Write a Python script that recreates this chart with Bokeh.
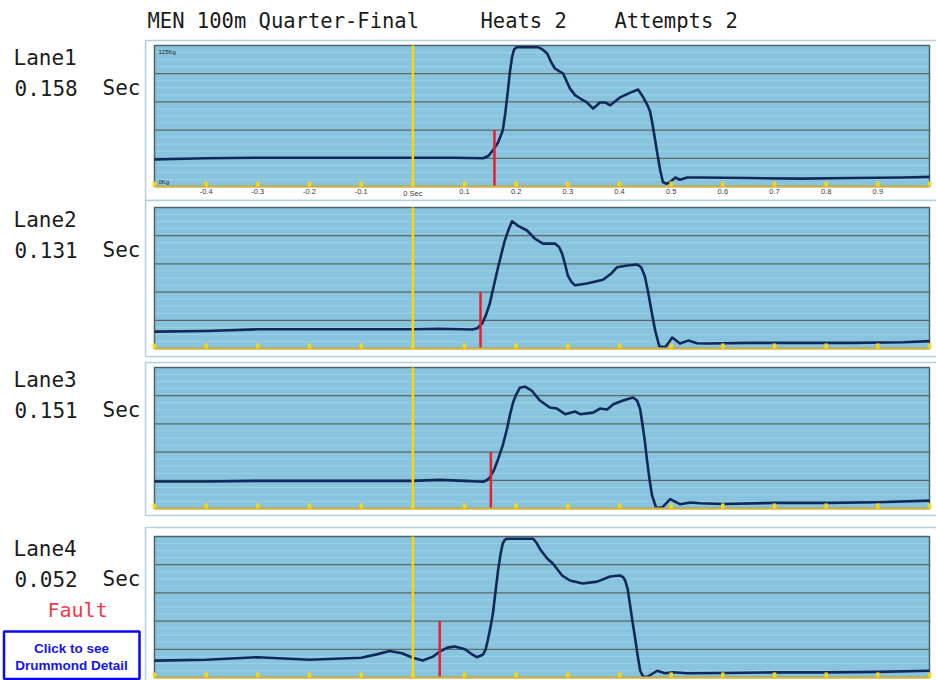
from bokeh.plotting import figure
from bokeh.models import Range1d
from bokeh.core.properties import value
from bokeh.embed import file_html
from bokeh.resources import INLINE

# ---------------- data ----------------
title_parts = ["MEN 100m Quarter-Final", "Heats 2", "Attempts 2"]
lanes = ["Lane1", "Lane2", "Lane3", "Lane4"]
reaction_times = [0.158, 0.131, 0.151, 0.052]
reaction_labels = ["0.158", "0.131", "0.151", "0.052"]
unit_label = "Sec"
fault_text = "Fault"
button_lines = ["Click to see", "Drummond Detail"]

tick_values = [-0.5, -0.4, -0.3, -0.2, -0.1, 0.0, 0.1, 0.2, 0.3, 0.4, 0.5, 0.6, 0.7, 0.8, 0.9, 1.0]
tick_labels = ["", "-0.4", "-0.3", "-0.2", "-0.1", "0 Sec", "0.1", "0.2", "0.3", "0.4",
               "0.5", "0.6", "0.7", "0.8", "0.9", ""]
grid_values = [25, 50, 75, 100]
kg_labels = ["125Kg", "0Kg"]

lane1_t = [-0.5, -0.4, -0.3, -0.2, -0.1, 0.0, 0.08, 0.136, 0.146, 0.155, 0.165, 0.174, 0.179,
           0.184, 0.188, 0.192, 0.196, 0.201, 0.242, 0.251, 0.260, 0.268, 0.275, 0.291, 0.304,
           0.314, 0.324, 0.337, 0.349, 0.362, 0.372, 0.382, 0.401, 0.420, 0.436, 0.446, 0.453,
           0.459, 0.464, 0.469, 0.474, 0.479, 0.484, 0.490, 0.497, 0.508, 0.517, 0.531, 0.556,
           0.65, 0.75, 0.85, 0.95, 1.0]
lane1_kg = [24, 25, 25.5, 25.5, 25.5, 25.5, 25.5, 25, 27, 32, 39, 49.6, 65,
            85, 102, 114.6, 121.5, 123.5, 123.5, 121.5, 118, 110, 104.6, 100, 87,
            81, 78, 74.5, 69, 74.5, 74.5, 72, 79, 83, 86, 79, 73,
            67, 55, 41, 27, 14, 4, 2.5, 3.5, 8, 6, 8, 8,
            7.5, 7, 7.5, 8, 8.5]

lane2_t = [-0.5, -0.4, -0.3, -0.2, -0.1, 0.0, 0.05, 0.115, 0.125, 0.134, 0.141, 0.149, 0.157,
           0.165, 0.172, 0.178, 0.185, 0.192, 0.203, 0.221, 0.236, 0.252, 0.275, 0.283, 0.289,
           0.295, 0.300, 0.307, 0.314, 0.337, 0.368, 0.383, 0.395, 0.415, 0.434, 0.442, 0.449,
           0.455, 0.462, 0.469, 0.477, 0.488, 0.495, 0.502, 0.517, 0.533, 0.550, 0.571,
           0.65, 0.75, 0.85, 0.95, 1.0]
lane2_kg = [15, 15.5, 17, 17, 17, 17, 17.5, 16.8, 18, 22, 29, 40, 56,
            72, 85, 95.7, 105, 112.8, 109, 104.6, 97.5, 93, 93, 90, 84,
            74, 64.7, 59, 56, 57.6, 61, 66, 72, 73.6, 74.5, 72, 64,
            51, 33, 16, 2, 1, 5, 9.7, 4.4, 7, 4.7, 4.4,
            5, 5, 5, 5.5, 6.5]

lane3_t = [-0.5, -0.4, -0.3, -0.2, -0.1, 0.0, 0.052, 0.1, 0.136, 0.143, 0.149, 0.157, 0.165,
           0.174, 0.182, 0.188, 0.194, 0.200, 0.207, 0.217, 0.230, 0.246, 0.265, 0.279, 0.295,
           0.314, 0.324, 0.349, 0.362, 0.376, 0.388, 0.407, 0.426, 0.434, 0.440, 0.444, 0.449,
           0.453, 0.458, 0.463, 0.471, 0.483, 0.498, 0.517, 0.537, 0.556, 0.601, 0.7, 0.8,
           0.9, 1.0]
lane3_kg = [24, 24, 24.5, 24.5, 24.5, 24.5, 25.4, 24.5, 23.7, 25, 27.5, 34, 43.7,
            56, 70, 83, 94, 101, 107, 108, 104.6, 95.7, 89.5, 88.6, 83.6,
            86, 83.6, 85, 88.6, 87.8, 92.5, 95.7, 98.4, 95.7, 88, 76, 60,
            43.7, 26, 11.5, 0.5, 1, 8.3, 3.8, 5.3, 4.7, 4, 5, 5,
            5.5, 7]

lane4_t = [-0.5, -0.4, -0.3, -0.2, -0.1, -0.07, -0.045, -0.021, 0.0, 0.019, 0.039, 0.053, 0.067,
           0.081, 0.101, 0.113, 0.124, 0.136, 0.141, 0.145, 0.150, 0.155, 0.160, 0.165, 0.170,
           0.174, 0.178, 0.182, 0.233, 0.240, 0.246, 0.260, 0.271, 0.289, 0.304, 0.329, 0.357,
           0.382, 0.401, 0.407, 0.411, 0.416, 0.420, 0.425, 0.430, 0.435, 0.440, 0.446, 0.455,
           0.473, 0.488, 0.504, 0.531, 0.6, 0.7, 0.8, 0.9, 1.0]
lane4_kg = [15, 15.7, 18, 15.7, 17.5, 20.5, 23.5, 21.5, 17.5, 15, 18.5, 23.3, 26.5,
            27.5, 25, 21, 18, 20.4, 25, 32.8, 44, 56.7, 76, 95, 110,
            118.8, 122, 123, 123, 119, 114, 105.5, 101, 90.4, 86, 83.3, 85,
            89.5, 90.4, 89, 86, 78, 65.6, 50, 35.7, 20, 6, 0.5, 0.9,
            6, 3.8, 4.7, 3.8, 4, 4.5, 4.5, 5, 6]

traces = [(lane1_t, lane1_kg), (lane2_t, lane2_kg), (lane3_t, lane3_kg), (lane4_t, lane4_kg)]

# ---------------- styles / geometry (canvas px) ----------------
W, H = 936, 680
BG = "#88c4de"
TRACE = "#11295a"
YELLOW = "#f7d512"
AXIS_YELLOW = "#d4b43c"
RED = "#ee1c2e"
GRID = "#5a6869"
FRAME = "#4a646c"
BOXLINE = "#b3d1dc"
MONO = value("DejaVu Sans Mono")

X_MIN, X_MAX = -0.5, 1.0
Y_MIN, Y_MAX = 0, 125
FRAME_LEFT, FRAME_RIGHT = 154, 929
frame_tops = [45, 207, 367, 536]
FRAME_H = 141
# faint outer boxes around each panel: (top, bottom)
boxes = [(40, 200), (200, 356), (362, 515), (527, 684)]

px_per_s = (FRAME_RIGHT - FRAME_LEFT) / (X_MAX - X_MIN)
px_per_kg = FRAME_H / (Y_MAX - Y_MIN)

p = figure(width=W, height=H, x_range=Range1d(0, W), y_range=Range1d(H, 0),
           output_backend="svg", toolbar_location=None,
           x_axis_location=None, y_axis_location=None,
           min_border=0, outline_line_color=None,
           background_fill_color="white", border_fill_color="white")
p.grid.visible = False

# time scale shared by all panels
p.extra_x_ranges = {"t": Range1d(X_MIN - FRAME_LEFT / px_per_s,
                                 X_MAX + (W - FRAME_RIGHT) / px_per_s)}
yr = {}
for i, ft in enumerate(frame_tops):
    fb = ft + FRAME_H
    yr["kg%d" % i] = Range1d(Y_MIN - (H - fb) / px_per_kg, Y_MIN + fb / px_per_kg)
p.extra_y_ranges = yr

# outer boxes (page decoration)
for (bt, bb) in boxes:
    p.quad(left=[145], right=[W + 5], top=[bt], bottom=[bb], fill_color="white",
           line_color=BOXLINE, line_width=1.5)

minor = [g + d for g in [0, 25, 50, 75, 100] for d in (6.25, 12.5, 18.75)]

for i in range(4):
    yn = "kg%d" % i
    kw = dict(x_range_name="t", y_range_name=yn)
    # plotting area
    p.quad(left=[X_MIN], right=[X_MAX], bottom=[Y_MIN], top=[Y_MAX], fill_color=BG,
           line_color=None, **kw)
    # faint scan lines and grid
    p.segment(x0=[X_MIN] * len(minor), x1=[X_MAX] * len(minor), y0=minor, y1=minor,
              line_color="#d2eef8", line_alpha=0.3, line_width=1, **kw)
    p.segment(x0=[X_MIN] * 4, x1=[X_MAX] * 4, y0=grid_values, y1=grid_values,
              line_color=GRID, line_width=1.3, **kw)
    # frame
    p.quad(left=[X_MIN], right=[X_MAX], bottom=[Y_MIN], top=[Y_MAX], fill_color=None,
           line_color=FRAME, line_width=1.5, **kw)
    # trace
    t, kg = traces[i]
    p.line(t, kg, line_color=TRACE, line_width=2.6, line_join="round", **kw)
    # reaction marker
    rt = reaction_times[i]
    p.segment(x0=[rt], y0=[Y_MIN], x1=[rt], y1=[50], line_color=RED, line_width=2.5, **kw)
    # start line
    p.segment(x0=[0], y0=[Y_MIN], x1=[0], y1=[Y_MAX], line_color=YELLOW, line_width=2.5, **kw)
    # time axis: baseline and ticks
    p.segment(x0=[X_MIN], y0=[Y_MIN], x1=[X_MAX], y1=[Y_MIN], line_color=AXIS_YELLOW,
              line_width=2, **kw)
    p.segment(x0=tick_values, y0=[Y_MIN] * len(tick_values), x1=tick_values,
              y1=[4.5] * len(tick_values), line_color=YELLOW, line_width=3.5, **kw)
    if i == 0:
        p.text(x=tick_values, y=[Y_MIN] * len(tick_values), text=tick_labels, y_offset=2,
               text_font_size="7.5px", text_color="#3a3a3a", text_baseline="top",
               text_align="center", **kw)
        p.text(x=[X_MIN], y=[Y_MAX], text=[kg_labels[0]], x_offset=4, y_offset=3,
               text_font_size="6px", text_color="#222222", text_baseline="top", **kw)
        p.text(x=[X_MIN], y=[Y_MIN], text=[kg_labels[1]], x_offset=4, y_offset=-2,
               text_font_size="6px", text_color="#222222", text_baseline="bottom", **kw)

# left column labels
for i, ft in enumerate(frame_tops):
    p.text(x=[13], y=[ft + 12], text=[lanes[i]], text_font=MONO, text_font_size="21px",
           text_color="#1c1c1c", text_baseline="alphabetic", text_align="left")
    p.text(x=[14], y=[ft + 42], text=[reaction_labels[i]], text_font=MONO,
           text_font_size="21px", text_color="#1c1c1c", text_baseline="alphabetic",
           text_align="left")
    p.text(x=[102], y=[ft + 42], text=[unit_label], text_font=MONO, text_font_size="21px",
           text_color="#1c1c1c", text_baseline="alphabetic", text_align="left")

p.text(x=[47], y=[609], text=[fault_text], text_font=MONO, text_font_size="20px",
       text_color="#f03a48", text_baseline="alphabetic", text_align="left")

p.quad(left=[3.5], right=[139], top=[631], bottom=[678.5], fill_color="white",
       line_color="#0a0aee", line_width=2.5)
p.text(x=[71, 71], y=[648, 665], text=button_lines, text_font=value("Liberation Sans"),
       text_font_size="13.5px", text_font_style="bold", text_color="#1414f0",
       text_baseline="alphabetic", text_align="center")

# title
p.text(x=[147, 480, 614], y=[20, 20, 20], text=title_parts, text_font=MONO,
       text_font_size="20.5px", text_color="#1a1a1a", text_baseline="alphabetic",
       text_align="left")

open("out.html", "w").write(file_html(p, INLINE))
